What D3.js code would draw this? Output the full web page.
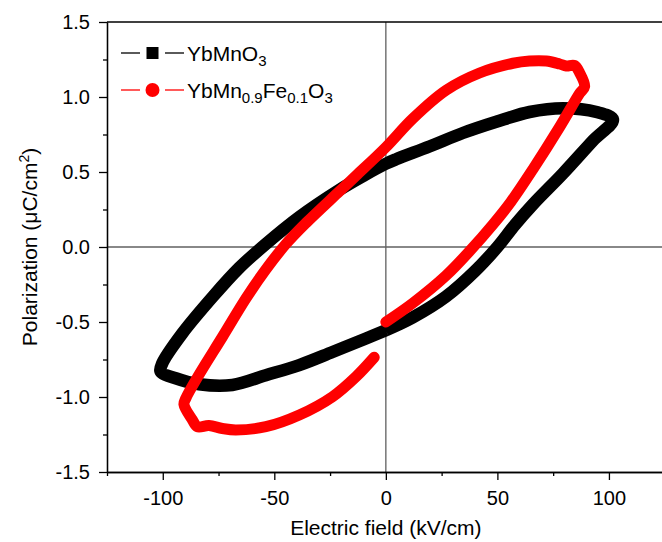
<!DOCTYPE html>
<html>
<head>
<meta charset="utf-8">
<script src="https://cdn.jsdelivr.net/npm/d3@7"></script>
<style>
body{margin:0;background:#fff;}
text{font-family:"Liberation Sans",Arial,sans-serif;}
</style>
</head>
<body>
<script>

// YbMnO3 loop (kV/cm , uC/cm2)
var blackE=[0,12,27,40,50,58,66,79.4,92.9,101.8,94.4,79.4,64.4,49.5,34.5,19.5,4.6,0,-10,-20.9,-38.8,-53.8,-65.8,-77.5,-91.2,-100.2,-101,-94.2,-83.7,-68.8,-53.8,-38.8,-23.9,-8.9,0];
var blackP=[-0.555,-0.47,-0.33,-0.16,0.0,0.15,0.285,0.49,0.71,0.85,0.90,0.925,0.90,0.835,0.76,0.67,0.585,0.555,0.475,0.38,0.20,0.02,-0.14,-0.33,-0.575,-0.775,-0.83,-0.875,-0.915,-0.92,-0.855,-0.787,-0.70,-0.61,-0.555];

// YbMn0.9Fe0.1O3 loop
var redE=[0,12,27,38,48,56,66,77.9,86.9,89.1,86.9,84.6,80.9,77.9,71.9,64.4,57,42,27,12,0,-13.4,-20.9,-35.8,-44.8,-53.8,-62.6,-73.3,-83.7,-89.7,-90.5,-86.7,-84.5,-79.3,-73.3,-67.3,-53.8,-38.8,-23.9,-13.4,-5.2];
var redP=[-0.50,-0.375,-0.19,-0.02,0.15,0.30,0.52,0.80,1.025,1.07,1.16,1.21,1.207,1.22,1.24,1.24,1.225,1.16,1.045,0.855,0.665,0.475,0.37,0.16,0.02,-0.15,-0.34,-0.60,-0.85,-1.01,-1.05,-1.153,-1.198,-1.19,-1.21,-1.22,-1.198,-1.12,-0.998,-0.865,-0.735];

var xTicks=[-100,-50,0,50,100];
var xMinor=[-125,-75,-25,25,75,125];
var yTicks=[-1.5,-1.0,-0.5,0.0,0.5,1.0,1.5];
var yMinor=[-1.25,-0.75,-0.25,0.25,0.75,1.25];

var width=662, height=542;
var plotL=107, plotR=664.7, plotT=22, plotB=472;

var svg=d3.select("body").append("svg")
	.attr("width",width)
	.attr("height",height);

var x=d3.scaleLinear().domain([-125,125]).range([plotL,plotR]);
var y=d3.scaleLinear().domain([-1.5,1.5]).range([plotB,plotT]);

// zero lines
svg.append("line")
	.attr("x1",x(0)).attr("x2",x(0)).attr("y1",plotT).attr("y2",plotB)
	.style("stroke","#606060").style("stroke-width",1.3);
svg.append("line")
	.attr("x1",plotL).attr("x2",plotR).attr("y1",y(0)).attr("y2",y(0))
	.style("stroke","#606060").style("stroke-width",1.3);

// frame top / right
svg.append("line")
	.attr("x1",plotL).attr("x2",plotR).attr("y1",plotT).attr("y2",plotT)
	.style("stroke","#000").style("stroke-width",1.3);
svg.append("line")
	.attr("x1",plotR).attr("x2",plotR).attr("y1",plotT).attr("y2",plotB)
	.style("stroke","#000").style("stroke-width",1.3);

// axes
svg.append("g")
	.attr("transform","translate(0,"+plotB+")")
	.call(d3.axisBottom(x).tickValues(xTicks).tickSize(8).tickSizeOuter(0).tickPadding(11).tickFormat(d3.format("d")));
svg.append("g")
	.attr("transform","translate(0,"+plotB+")")
	.call(d3.axisBottom(x).tickValues(xMinor).tickSize(4).tickSizeOuter(0).tickFormat(""));

svg.append("g")
	.attr("transform","translate("+plotL+",0)")
	.call(d3.axisLeft(y).tickValues(yTicks).tickSize(8).tickSizeOuter(0).tickPadding(9).tickFormat(d3.format(".1f")));
svg.append("g")
	.attr("transform","translate("+plotL+",0)")
	.call(d3.axisLeft(y).tickValues(yMinor).tickSize(4).tickSizeOuter(0).tickFormat(""));

svg.selectAll(".domain").style("stroke","#000").style("stroke-width",1.3);
svg.selectAll(".tick line").style("stroke","#000").style("stroke-width",1.3);
svg.selectAll(".tick text")
	.style("font-size","20px")
	.style("fill","#000")
	.style("font-family","'Liberation Sans',Arial,sans-serif")
	.text(function(){ return d3.select(this).text().replace("\u2212","-"); });

// axis titles
svg.append("text")
	.attr("x",x(0)).attr("y",535)
	.attr("text-anchor","middle")
	.style("font-size","21px")
	.text("Electric field (kV/cm)");

var yt=svg.append("text")
	.attr("transform","translate(37,"+((plotT+plotB)/2)+") rotate(-90)")
	.attr("text-anchor","middle")
	.style("font-size","21px");
yt.append("tspan").text("Polarization (\u03bcC/cm");
yt.append("tspan").attr("dy",-8).style("font-size","14px").text("2");
yt.append("tspan").attr("dy",8).text(")");

// loops
var line=d3.line()
	.x(function(d){return x(d[0]);})
	.y(function(d){return y(d[1]);})
	.curve(d3.curveCatmullRom.alpha(0.5));

var blackData=blackE.map(function(e,i){return [e,blackP[i]];});
var redData=redE.map(function(e,i){return [e,redP[i]];});

svg.append("path")
	.datum(blackData)
	.attr("d",line)
	.style("fill","none")
	.style("stroke","#000")
	.style("stroke-width",12.5)
	.style("stroke-linejoin","round");

svg.append("path")
	.datum(redData)
	.attr("d",line)
	.style("fill","none")
	.style("stroke","#ff0000")
	.style("stroke-width",11)
	.style("stroke-linecap","round")
	.style("stroke-linejoin","round");

// legend
var legend=[
	{color:"#000",shape:"square",y:53,parts:[["YbMnO",0],["3",1]]},
	{color:"#ff0000",shape:"circle",y:90,parts:[["YbMn",0],["0.9",1],["Fe",0],["0.1",1],["O",0],["3",1]]}
];

legend.forEach(function(item){
	var g=svg.append("g");
	g.append("line").attr("x1",121).attr("x2",140).attr("y1",item.y).attr("y2",item.y)
		.style("stroke",item.color).style("stroke-width",1.3);
	g.append("line").attr("x1",165).attr("x2",184).attr("y1",item.y).attr("y2",item.y)
		.style("stroke",item.color).style("stroke-width",1.3);
	if(item.shape=="square"){
		g.append("rect").attr("x",146.5).attr("y",item.y-6).attr("width",12).attr("height",12)
			.style("fill",item.color);
	}else{
		g.append("circle").attr("cx",152.5).attr("cy",item.y).attr("r",7)
			.style("fill",item.color);
	}
	var t=g.append("text").attr("x",187).attr("y",item.y+7.5).style("font-size","21px");
	var sub=false;
	item.parts.forEach(function(p){
		var s=t.append("tspan").text(p[0]);
		if(p[1]==1 && !sub){ s.attr("dy",5).style("font-size","15px"); sub=true; }
		else if(p[1]==0 && sub){ s.attr("dy",-5); sub=false; }
		else if(p[1]==1){ s.style("font-size","15px"); }
	});
});

</script>
</body>
</html>
